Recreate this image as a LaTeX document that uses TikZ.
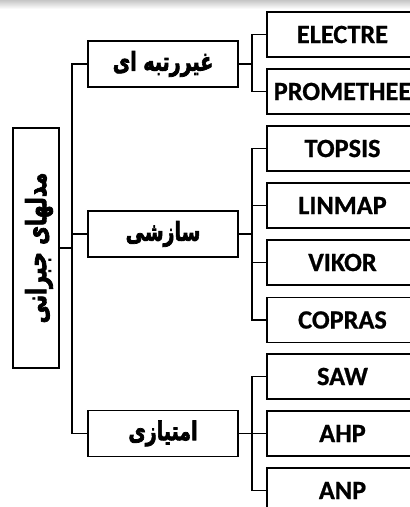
\documentclass[tikz,border=0pt]{standalone}
\usepackage{fontspec}
\setmainfont{Carlito}[BoldFeatures={FakeBold=0.8}]
\newfontfamily\fa[Script=Arabic,BoldFeatures={FakeBold=3}]{DejaVu Sans}
\TeXXeTstate=1
\newcommand\tallfa[1]{\scalebox{1}[1.35]{#1}}
\begin{document}
\begin{tikzpicture}[x=1pt,y=-1pt,
  box/.style={draw=black,line width=1.8pt,fill=white,inner sep=0pt},
  leaf/.style={box,minimum width=151pt,minimum height=45pt,font=\fontsize{26.3}{28}\selectfont\bfseries},
  cat/.style={box,minimum width=150pt,minimum height=46pt,font=\fontsize{19}{22}\selectfont\fa\bfseries},
  rootbox/.style={box,minimum width=46pt,minimum height=240pt},
  conn/.style={line width=1.8pt,line cap=rect}]
\useasboundingbox (0,0) rectangle (410,507);
\clip (0,0) rectangle (410,507);
\shade[top color=gray!45,bottom color=white] (0,0) rectangle (410,9);
% root
\node[rootbox] (root) at (36,248) {};
\node[rotate=90,font=\fontsize{20.5}{22}\selectfont\fa\bfseries,inner sep=0pt] (roottext) at (39,248) {\tallfa{\beginR مدلهای جبرانی\endR}};
% categories
\node[cat] (c1) at (163,64) {\tallfa{\beginR غیررتبه ای\endR}};
\node[cat] (c2) at (163,234) {\tallfa{\beginR سازشی\endR}};
\node[cat] (c3) at (163,433.5) {\tallfa{\beginR امتیازی\endR}};
% leaves
\node[leaf] (l1) at (342.5,34.5) {ELECTRE};
\node[leaf] (l2) at (342.5,91.5) {PROMETHEE};
\node[leaf] (l3) at (342.5,148.5) {TOPSIS};
\node[leaf] (l4) at (342.5,205.5) {LINMAP};
\node[leaf] (l5) at (342.5,262.5) {VIKOR};
\node[leaf] (l6) at (342.5,320) {COPRAS};
\node[leaf] (l7) at (342.5,376.5) {SAW};
\node[leaf] (l8) at (342.5,433.5) {AHP};
\node[leaf] (l9) at (342.5,490.5) {ANP};
% left trunk
\draw[conn] (c1.west) -- ++(-15,0) coordinate (t1) |- (c3.west);
\draw[conn] (c2.west) -- (c2.west -| t1);
\draw[conn] (root.east) -- (root.east -| t1);
% right branches
\draw[conn] (l1.west) -- ++(-14,0) coordinate (r1) |- (l2.west);
\draw[conn] (c1.east) -- (c1.east -| r1);
\draw[conn] (l3.west) -- ++(-14,0) coordinate (r2) |- (l6.west);
\draw[conn] (l4.west) -- (l4.west -| r2);
\draw[conn] (l5.west) -- (l5.west -| r2);
\draw[conn] (c2.east) -- (c2.east -| r2);
\draw[conn] (l7.west) -- ++(-14,0) coordinate (r3) |- (l9.west);
\draw[conn] (l8.west) -- (l8.west -| r3);
\draw[conn] (c3.east) -- (c3.east -| r3);
\end{tikzpicture}
\end{document}
